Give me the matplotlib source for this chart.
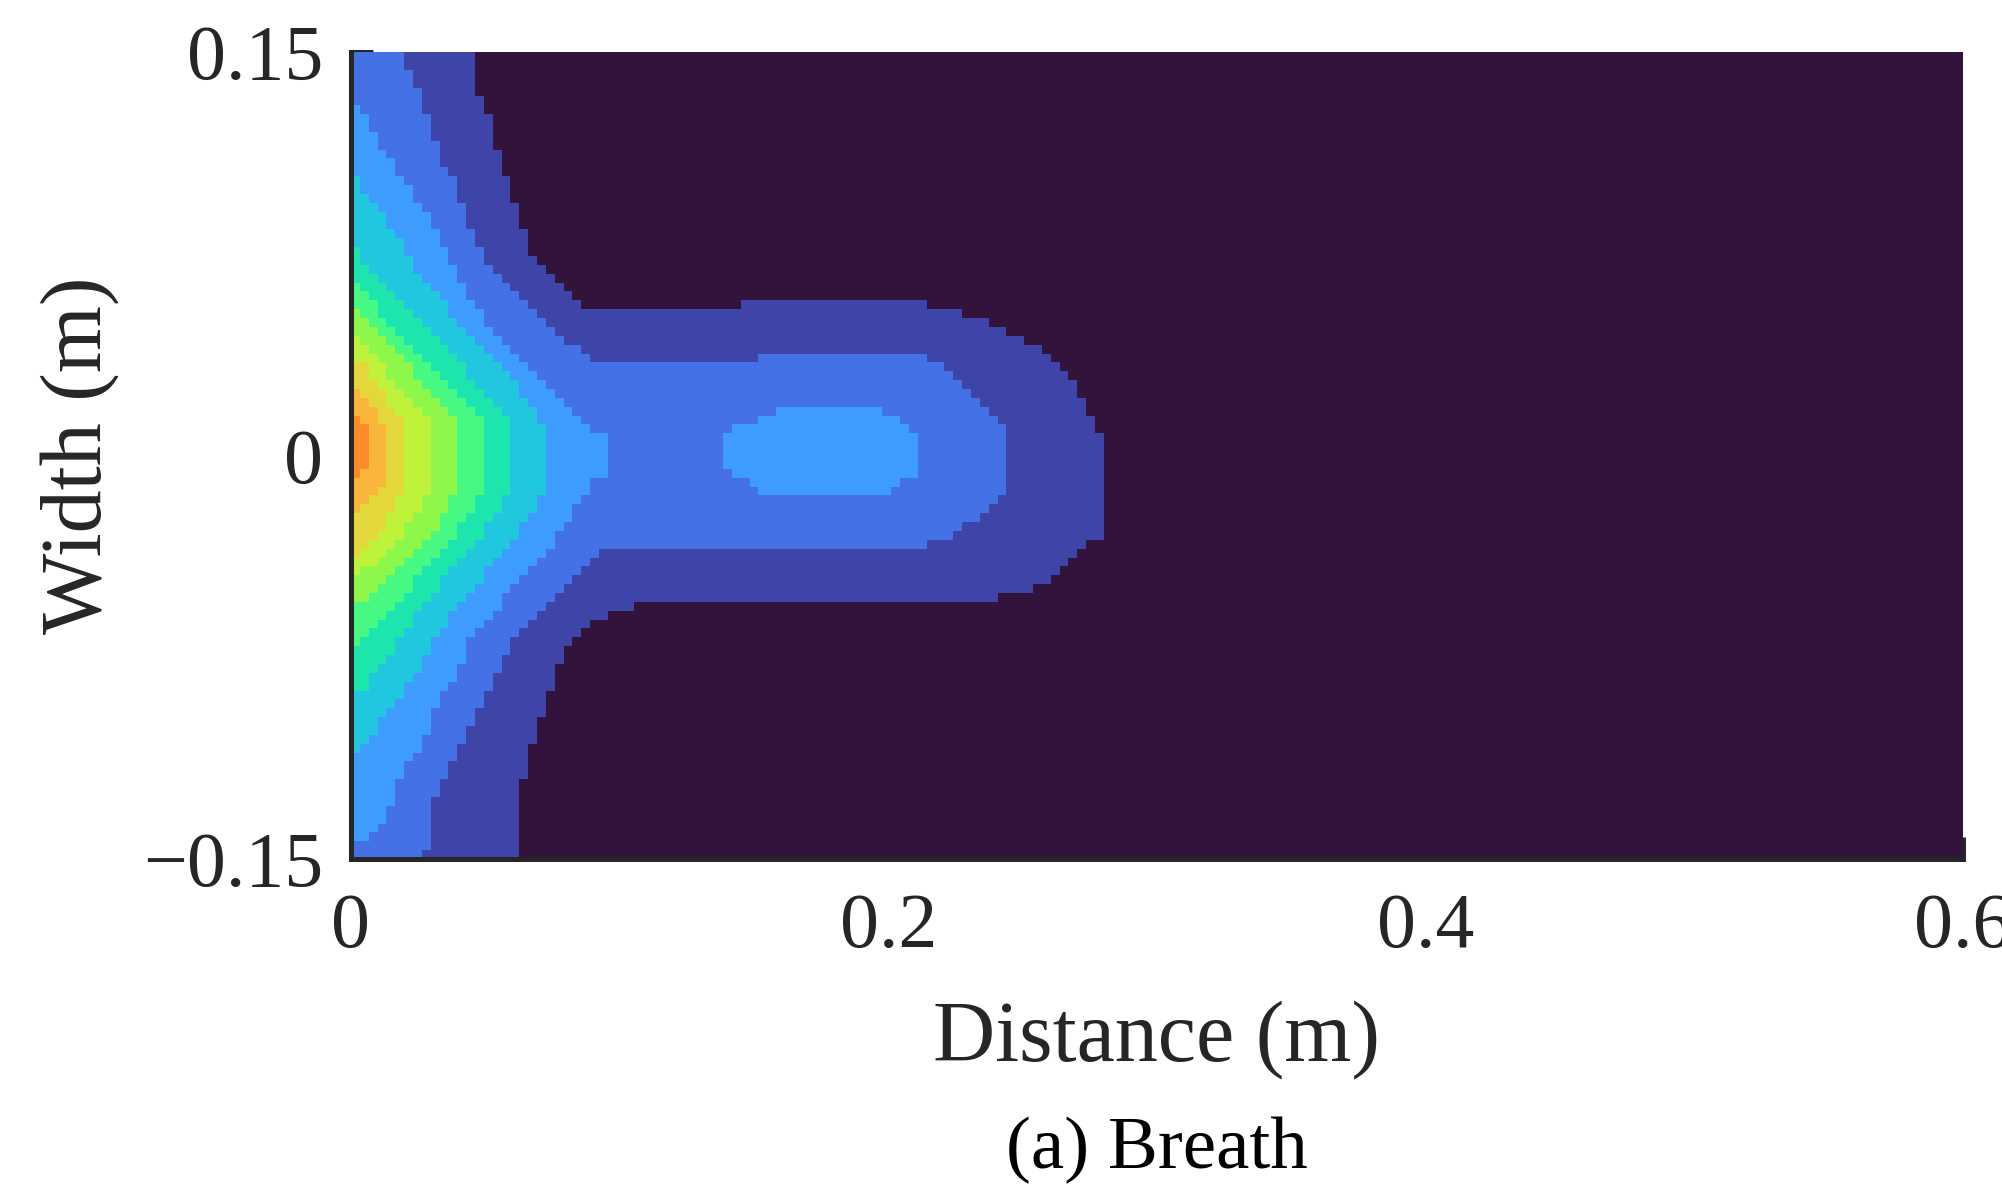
import numpy as np
import matplotlib
matplotlib.use("Agg")
import matplotlib.pyplot as plt
from matplotlib.path import Path
from matplotlib.colors import ListedColormap

# colours of the filled levels, lowest (background) to highest
level_colors = ['#31133b', '#3f44a8', '#4471e6', '#3d9cfd', '#21c7de', '#1de5ae',
                '#47f882', '#8ef84a', '#bff23a', '#e3d73b', '#f9b63a', '#fd8b2a']

# outer edge of each level (x in m, y in m)
lvl1_x = [0, 0.0462, 0.0462, 0.0495, 0.0529, 0.0562, 0.0592, 0.0626, 0.0659, 0.0693,
          0.0752, 0.0823, 0.0890, 0.0953, 0.1181, 0.1672, 0.2119, 0.2287, 0.2387, 0.2454,
          0.2585, 0.2648, 0.2711, 0.2752, 0.2797, 0.2797, 0.2745, 0.2711, 0.2648, 0.2547,
          0.2417, 0.2194, 0.1080, 0.0976, 0.0920, 0.0853, 0.0790, 0.0752, 0.0723, 0.0693,
          0.0659, 0.0629, 0.0622, 0]
lvl1_y = [0.151, 0.151, 0.1372, 0.1323, 0.1212, 0.1082, 0.0989, 0.0896, 0.0784, 0.0721,
          0.0654, 0.0591, 0.0543, 0.0528, 0.0543, 0.0576, 0.0569, 0.0528, 0.0494, 0.0457,
          0.0394, 0.0327, 0.0234, 0.0152, 0.0059, -0.0294, -0.0320, -0.0361, -0.0424, -0.0491,
          -0.0524, -0.0554, -0.0558, -0.0580, -0.0617, -0.0654, -0.0729, -0.0851, -0.0918, -0.1011,
          -0.1112, -0.1271, -0.151, -0.151]

lvl2_x = [0, 0.0171, 0.0201, 0.0231, 0.0268, 0.0302, 0.0331, 0.0365, 0.0399, 0.0432,
          0.0462, 0.0495, 0.0529, 0.0562, 0.0592, 0.0629, 0.0659, 0.0693, 0.0723, 0.0752,
          0.0790, 0.0853, 0.0927, 0.1300, 0.1523, 0.1672, 0.2056, 0.2156, 0.2220, 0.2287,
          0.2354, 0.2417, 0.2447, 0.2447, 0.2417, 0.2354, 0.2287, 0.2186, 0.2026, 0.0927,
          0.0883, 0.0823, 0.0752, 0.0693, 0.0629, 0.0566, 0.0499, 0.0432, 0.0369, 0.0305,
          0.0294, 0.0276, 0]
lvl2_y = [0.151, 0.151, 0.1472, 0.1409, 0.1312, 0.1212, 0.1112, 0.1052, 0.0981, 0.0885,
          0.0814, 0.0755, 0.0691, 0.0654, 0.0625, 0.0591, 0.0554, 0.0524, 0.0494, 0.0461,
          0.0424, 0.0394, 0.0349, 0.0335, 0.0364, 0.0390, 0.0390, 0.0361, 0.0327, 0.0260,
          0.0197, 0.0115, 0.0059, -0.0089, -0.0145, -0.0230, -0.0264, -0.0323, -0.0361, -0.0357,
          -0.0398, -0.0454, -0.0524, -0.0584, -0.0654, -0.0751, -0.0881, -0.1019, -0.1141, -0.1279,
          -0.1390, -0.151, -0.151]

lvl3_x = [0, 0.0041, 0.0071, 0.0138, 0.0201, 0.0268, 0.0331, 0.0399, 0.0462, 0.0529,
          0.0592, 0.0659, 0.0723, 0.0790, 0.0853, 0.0920, 0.0968, 0.0968, 0.0920, 0.0853,
          0.0790, 0.0723, 0.0659, 0.0600, 0.0529, 0.0462, 0.0399, 0.0331, 0.0268, 0.0201,
          0.0138, 0.0071, 0]
lvl3_y = [0.1312, 0.1275, 0.1212, 0.1112, 0.1015, 0.0914, 0.0792, 0.0654, 0.0554, 0.0461,
          0.0394, 0.0331, 0.0264, 0.0201, 0.0134, 0.0080, 0.0050, -0.0052, -0.0082, -0.0164,
          -0.0264, -0.0361, -0.0416, -0.0491, -0.0584, -0.0654, -0.0788, -0.0918, -0.1048, -0.1178,
          -0.1309, -0.1439, -0.1446]

# the separate light-blue island inside the lobe
island_x = [0.1698, 0.1914, 0.1996, 0.2056, 0.2093, 0.2115, 0.2115, 0.2093, 0.2056, 0.2026,
            0.1963, 0.1631, 0.1534, 0.1479, 0.1412, 0.1374, 0.1374, 0.1412, 0.1497, 0.1575]
island_y = [0.0197, 0.0197, 0.0164, 0.0104, 0.0067, 0.0033, -0.0063, -0.0074, -0.0097, -0.0126,
            -0.0164, -0.0164, -0.0134, -0.0100, -0.0071, -0.0026, 0.0067, 0.0097, 0.0126, 0.0164]

lvl4_x = [0, 0.0108, 0.0227, 0.0369, 0.0555, 0.0693, 0.0723, 0.0723, 0.0693, 0.0562,
          0.0443, 0.0302, 0.0201, 0.0078, 0]
lvl4_y = [0.1052, 0.0914, 0.0717, 0.0532, 0.0346, 0.0164, 0.0097, -0.0126, -0.0193, -0.0361,
          -0.0509, -0.0695, -0.0881, -0.1030, -0.1119]

lvl5_x = [0, 0.0041, 0.0231, 0.0399, 0.0566, 0.0592, 0.0592, 0.0562, 0.0432, 0.0302,
          0.0171, 0.0041, 0]
lvl5_y = [0.0822, 0.0717, 0.0532, 0.0346, 0.0160, 0.0115, -0.0126, -0.0193, -0.0361, -0.0509,
          -0.0695, -0.0881, -0.0896]

lvl6_x = [0, 0.0108, 0.0268, 0.0469, 0.0492, 0.0492, 0.0462, 0.0339, 0.0201, 0.0041, 0]
lvl6_y = [0.0662, 0.0532, 0.0346, 0.0160, 0.0115, -0.0126, -0.0193, -0.0361, -0.0509, -0.0684,
          -0.0703]

lvl7_x = [0, 0.0041, 0.0201, 0.0369, 0.0399, 0.0399, 0.0369, 0.0238, 0.0089, 0]
lvl7_y = [0.0561, 0.0532, 0.0346, 0.0160, 0.0115, -0.0108, -0.0193, -0.0361, -0.0509, -0.0554]

lvl8_x = [0, 0.0101, 0.0268, 0.0302, 0.0302, 0.0268, 0.0138, 0]
lvl8_y = [0.0461, 0.0346, 0.0160, 0.0115, -0.0089, -0.0193, -0.0361, -0.0450]

lvl9_x = [0, 0.0041, 0.0171, 0.0201, 0.0201, 0.0171, 0.0041, 0]
lvl9_y = [0.0364, 0.0346, 0.0160, 0.0115, -0.0052, -0.0193, -0.0361, -0.0387]

lvl10_x = [0, 0.0101, 0.0127, 0.0138, 0.0127, 0.0071, 0]
lvl10_y = [0.0264, 0.0171, 0.0097, 0.0, -0.0089, -0.0182, -0.0208]

lvl11_x = [0, 0.0041, 0.0056, 0.0063, 0.0041, 0]
lvl11_y = [0.0171, 0.0152, 0.0097, -0.0015, -0.0071, -0.0097]

regions = [(1, lvl1_x, lvl1_y), (2, lvl2_x, lvl2_y), (3, lvl3_x, lvl3_y),
           (3, island_x, island_y), (4, lvl4_x, lvl4_y), (5, lvl5_x, lvl5_y),
           (6, lvl6_x, lvl6_y), (7, lvl7_x, lvl7_y), (8, lvl8_x, lvl8_y),
           (9, lvl9_x, lvl9_y), (10, lvl10_x, lvl10_y), (11, lvl11_x, lvl11_y)]

x_ticks = [0, 0.2, 0.4, 0.6]
x_tick_labels = ['0', '0.2', '0.4', '0.6']
y_ticks = [-0.15, 0, 0.15]
y_tick_labels = ['\u22120.15', '0', '0.15']

# sampling grid of the field (about 3.3 mm cells)
xe = np.linspace(0, 0.6, 183)
ye = np.linspace(-0.15, 0.15, 92)
xc = (xe[:-1] + xe[1:]) / 2
yc = (ye[:-1] + ye[1:]) / 2
X, Y = np.meshgrid(xc, yc)
pts = np.column_stack([X.ravel(), Y.ravel()])

level = np.zeros(X.size, dtype=int)
for k, px, py in regions:
    inside = Path(np.column_stack([px, py])).contains_points(pts)
    level[inside] = np.maximum(level[inside], k)
level = level.reshape(X.shape)

plt.rcParams['font.family'] = ['Liberation Serif', 'DejaVu Serif']
ink = '#262626'

fig = plt.figure(figsize=(10.01, 5.94), dpi=200)
ax = fig.add_axes([0.1753, 0.2769, 0.8052, 0.6793])
ax.pcolormesh(xe, ye, level, cmap=ListedColormap(level_colors), vmin=-0.5, vmax=11.5,
              shading='flat', antialiased=False, edgecolors='none')
ax.set_xlim(0, 0.6)
ax.set_ylim(-0.15, 0.15)
ax.set_axisbelow(True)

ax.set_xticks(x_ticks)
ax.set_xticklabels(x_tick_labels)
ax.set_yticks(y_ticks)
ax.set_yticklabels(y_tick_labels)
ax.tick_params(direction='in', length=8, width=1.8, color=ink, labelcolor=ink, labelsize=28)
ax.tick_params(axis='x', pad=12)
ax.tick_params(axis='y', pad=10)

for side in ['top', 'right']:
    ax.spines[side].set_visible(False)
for side in ['left', 'bottom']:
    ax.spines[side].set_linewidth(1.8)
    ax.spines[side].set_color(ink)

ax.set_xlabel('Distance (m)', fontsize=31, color=ink)
ax.xaxis.set_label_coords(0.5, -0.249)
ax.xaxis.label.set_va('baseline')
ax.set_ylabel('Width (m)', fontsize=31, color=ink)
ax.yaxis.set_label_coords(-0.1545, 0.5)
ax.yaxis.label.set_va('baseline')

fig.text(0.578, 0.0168, '(a) Breath', ha='center', va='baseline', fontsize=27, color='black')

fig.savefig('out.png', dpi=200)
